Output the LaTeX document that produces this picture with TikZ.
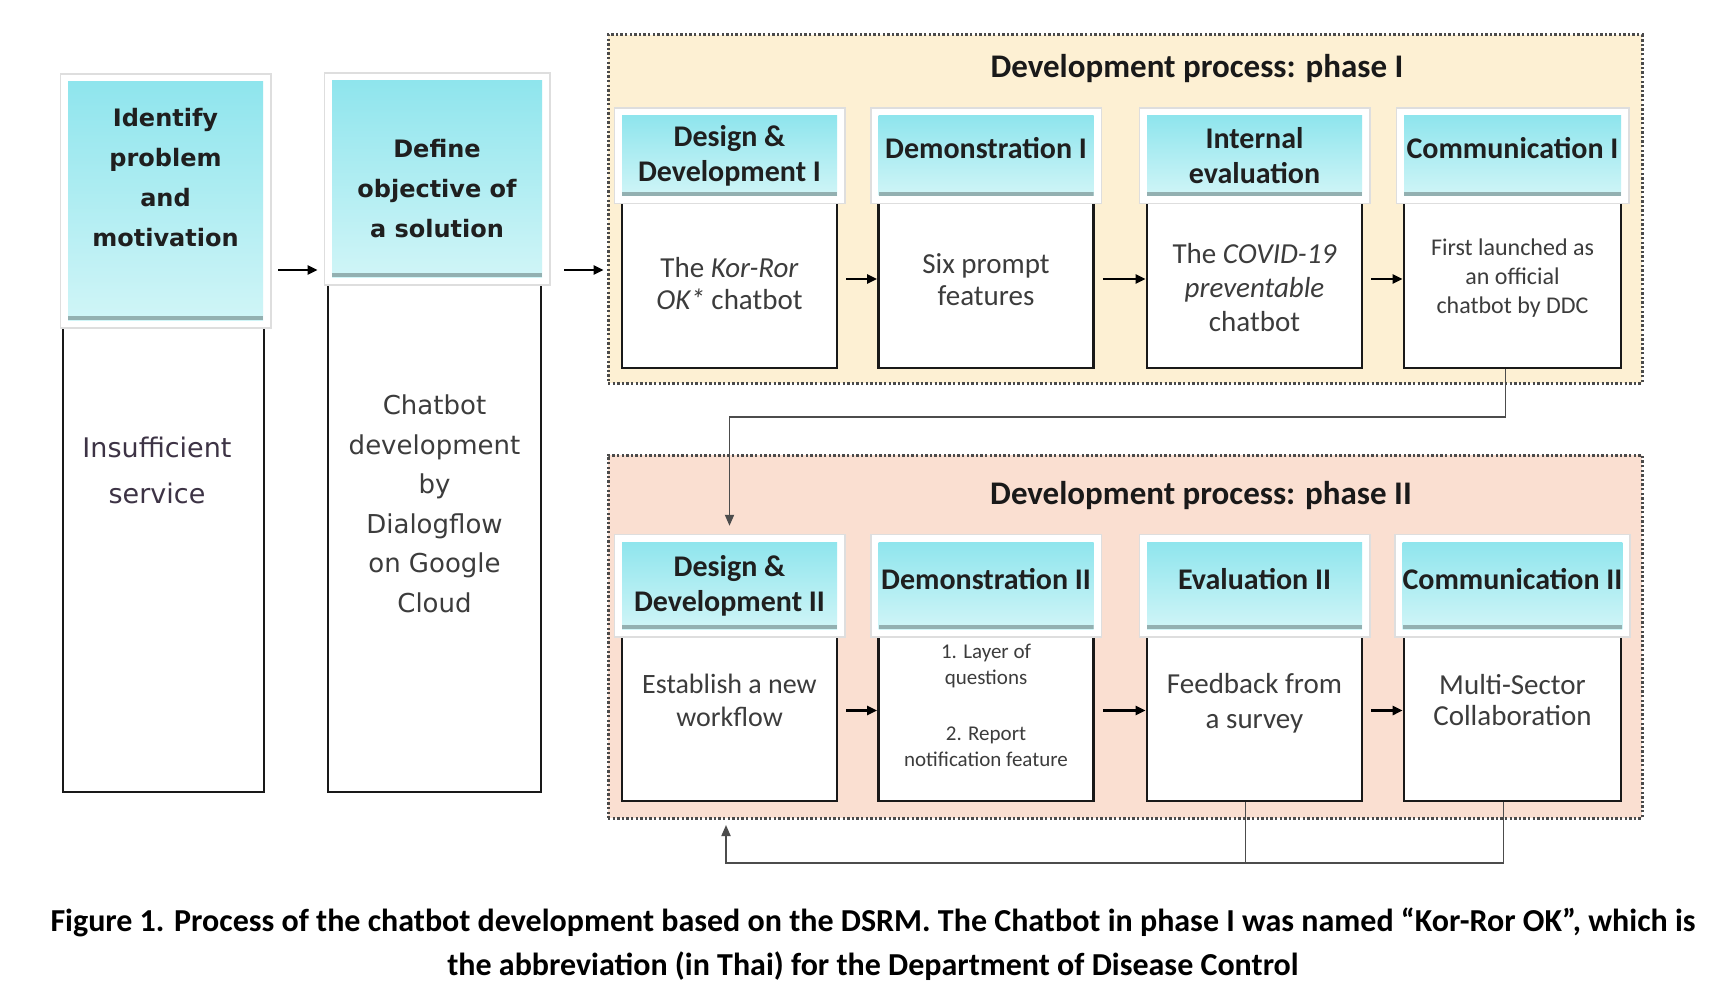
\documentclass[tikz,border=0pt]{standalone}
\usepackage{fontspec}
\setmainfont{Carlito}
\newfontfamily\dvs{DejaVu Sans}
\usetikzlibrary{arrows.meta,calc}
\definecolor{cyanT}{HTML}{8FE5ED}
\definecolor{cyanB}{HTML}{D0F5F7}
\definecolor{stripC}{HTML}{93B0B1}
\definecolor{yelF}{HTML}{FDF0D3}
\definecolor{pinkF}{HTML}{FADFD1}
\definecolor{txtG}{HTML}{3C3C3C}
\definecolor{txtP}{HTML}{3D3345}
\definecolor{dotC}{HTML}{4A4A4A}
\begin{document}
\begin{tikzpicture}[x=1pt,y=-1pt,
  hdr/.style={rectangle, inner sep=0pt, top color=cyanT, bottom color=cyanB,
    preaction={draw=black!13,line width=17pt},
    preaction={draw=white,line width=14pt},
    path picture={\fill[stripC] ([yshift=4pt]path picture bounding box.south west) rectangle (path picture bounding box.south east);},
    align=center, text=black!88, font=\fontsize{30}{35}\selectfont\bfseries},
  body/.style={rectangle, inner sep=0pt, draw=black!90, line width=2.6pt, fill=white},
  frame/.style={rectangle, inner sep=0pt, draw=dotC, line width=3pt, dash pattern=on 2.4pt off 2.2pt},
  btxt/.style={align=center, text=txtG, inner sep=0pt, font=\fontsize{29}{32}\selectfont},
  ttl/.style={inner sep=0pt, text=black!90, font=\fontsize{33}{38}\selectfont\bfseries},
  arr/.style={line width=2.4pt, black, -{Triangle[length=10pt,width=9pt]}},
  conn/.style={line width=1.8pt, black!70},
  connarr/.style={conn, -{Triangle[length=11pt,width=9pt]}}
]
\useasboundingbox[fill=white] (0,0) rectangle (1736,1000);

% ---------- left columns ----------
\node[body, minimum width=201, minimum height=482] (b1) at (163.5,551) {};
\node[hdr, minimum width=195, minimum height=238] (h1) at (165.5,201) {};
\node[align=center, inner sep=0pt, text=black!88, font=\dvs\fontsize{24}{40}\selectfont\bfseries] (th1) at (165.5,178) {Identify\\problem\\and\\motivation};
\node[align=center, inner sep=0pt, text=txtP, font=\dvs\fontsize{27}{46}\selectfont] (tb1) at (157,470) {Insufficient\\service};

\node[body, minimum width=213, minimum height=522] (b2) at (434.5,531) {};
\node[hdr, minimum width=210, minimum height=196] (h2) at (437,179) {};
\node[align=center, inner sep=0pt, text=black!88, font=\dvs\fontsize{24}{40}\selectfont\bfseries] (th2) at (437,189) {Define\\objective of\\a solution};
\node[align=center, inner sep=0pt, text=txtG, font=\dvs\fontsize{26}{39.5}\selectfont] (tb2) at (434.5,504) {Chatbot\\development\\by\\Dialogflow\\on Google\\Cloud};

% ---------- phase I ----------
\node[frame, fill=yelF, minimum width=1034, minimum height=348] (P1) at (1125,209) {};
\node[ttl] (T1) at (1197,69) {Development process: phase I};

\node[body, minimum width=215, minimum height=178] (bA1) at (729.5,279) {};
\node[body, minimum width=215, minimum height=178] (bB1) at (986,279) {};
\node[body, minimum width=215, minimum height=178] (bC1) at (1254.5,279) {};
\node[body, minimum width=217, minimum height=178] (bD1) at (1512.5,279) {};
\node[hdr, minimum width=215, minimum height=80] (hA1) at (729.5,156) {Design \&\\Development I};
\node[hdr, minimum width=215, minimum height=80] (hB1) at (986,156) {Demonstration I\\[-19pt]\mbox{}};
\node[hdr, minimum width=215, minimum height=80] (hC1) at (1254.5,156) {Internal\\evaluation};
\node[hdr, minimum width=217, minimum height=80] (hD1) at (1512.5,156) {Communication I\\[-19pt]\mbox{}};

\node[btxt] (tA1) at (729.5,284) {The \textit{Kor-Ror}\\\textit{OK*} chatbot};
\node[btxt] (tB1) at (986,280) {Six prompt\\features};
\node[btxt, font=\fontsize{29}{34}\selectfont] (tC1) at (1254.5,288) {The \textit{COVID-19}\\\textit{preventable}\\chatbot};
\node[btxt, font=\fontsize{24}{29}\selectfont] (tD1) at (1512.5,278) {First launched as\\an official\\chatbot by DDC};

\draw[arr] ($(bA1.east)+(8,0)$) -- (bB1.west);
\draw[arr] ($(bB1.east)+(8,0)$) -- (bC1.west);
\draw[arr] ($(bC1.east)+(8,0)$) -- (bD1.west);

% ---------- phase II ----------
\node[frame, fill=pinkF, minimum width=1034, minimum height=363] (P2) at (1125,636.5) {};
\node[ttl] (T2) at (1201,496) {Development process: phase II};

\node[body, minimum width=215, minimum height=181] (bA2) at (729.5,710.5) {};
\node[body, minimum width=215, minimum height=181] (bB2) at (986,710.5) {};
\node[body, minimum width=215, minimum height=181] (bC2) at (1254.5,710.5) {};
\node[body, minimum width=217, minimum height=181] (bD2) at (1512.5,710.5) {};
\node[hdr, minimum width=215, minimum height=87] (hA2) at (729.5,585.5) {Design \&\\Development II};
\node[hdr, minimum width=215, minimum height=87] (hB2) at (986,585.5) {Demonstration II\\[-22pt]\mbox{}};
\node[hdr, minimum width=215, minimum height=87] (hC2) at (1254.5,585.5) {Evaluation II\\[-22pt]\mbox{}};
\node[hdr, minimum width=217, minimum height=87] (hD2) at (1512.5,585.5) {Communication II\\[-22pt]\mbox{}};

\node[btxt, font=\fontsize{28}{33}\selectfont] (tA2) at (729.5,700) {Establish a new\\workflow};
\node[btxt, font=\fontsize{21}{26}\selectfont] (tB2) at (986,705) {1. Layer of\\questions\\[30pt]2. Report\\notification feature};
\node[btxt, font=\fontsize{29}{35}\selectfont] (tC2) at (1254.5,703) {Feedback from\\a survey};
\node[btxt, font=\fontsize{29}{31}\selectfont] (tD2) at (1512.5,700) {Multi-Sector\\Collaboration};

\draw[arr] ($(bA2.east)+(8,0)$) -- (bB2.west);
\draw[arr] ($(bB2.east)+(8,0)$) -- (bC2.west);
\draw[arr] ($(bC2.east)+(8,0)$) -- (bD2.west);

% ---------- connectors ----------
\coordinate (r1) at (0,270);
\draw[arr] ($(b1.east |- r1)+(13,0)$) -- ($(b2.west |- r1)+(-9,0)$);
\draw[arr] ($(b2.east |- r1)+(22,0)$) -- ($(P1.west |- r1)+(-3,0)$);

\coordinate (k1) at (0,417);
\draw[connarr] ([xshift=-7pt]bD1.south) |- (hA2.north |- k1) -- ([yshift=16pt]hA2.north);

\coordinate (k2) at (726,863);
\coordinate (k2tip) at (726,825);
\draw[conn] ([xshift=-9pt]bC2.south) -- ([xshift=-9pt]bC2.south |- k2);
\draw[connarr] ([xshift=-9pt]bD2.south) |- (k2) -- (k2tip);

% ---------- caption ----------
\node[align=center, inner sep=0pt, text=black, font=\fontsize{32}{44}\selectfont\bfseries] (cap) at (873,944)
 {Figure 1. Process of the chatbot development based on the DSRM. The Chatbot in phase I was named “Kor-Ror OK”, which is\\the abbreviation (in Thai) for the Department of Disease Control};
\end{tikzpicture}
\end{document}
